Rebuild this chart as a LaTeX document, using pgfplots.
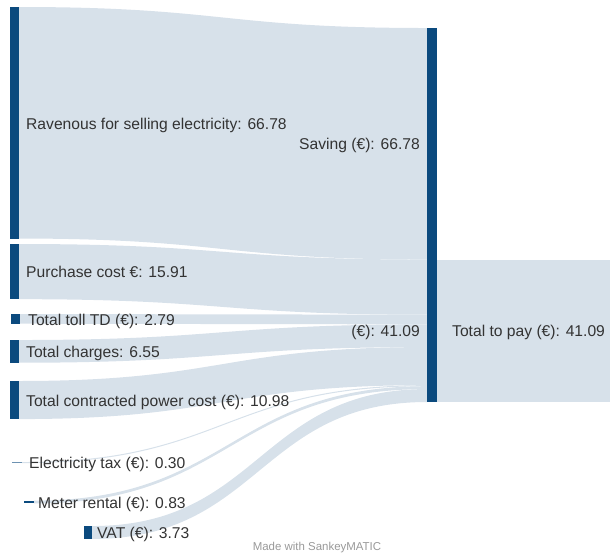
\documentclass[border=0pt]{standalone}
\usepackage{pgfplots}
\pgfplotsset{compat=1.18}
\usepackage{fontspec}
\setmainfont{Liberation Sans}
\definecolor{barc}{HTML}{0B4A7E}
\definecolor{flowc}{HTML}{D7E1EA}
\definecolor{txt}{HTML}{333333}
% flow: x0, x1, y0top, y0bot, y1top, y1bot
\newcommand\flow[6]{%
  \fill[flowc] (axis cs:#1,#3) .. controls (axis cs:{(#1+#2)/2},#3) and (axis cs:{(#1+#2)/2},#5) .. (axis cs:#2,#5)
    -- (axis cs:#2,#6) .. controls (axis cs:{(#1+#2)/2},#6) and (axis cs:{(#1+#2)/2},#4) .. (axis cs:#1,#4) -- cycle;}
\tikzset{lbl/.style={inner sep=0pt,text=txt,font=\fontsize{15.7}{18}\selectfont,yshift=-6.2bp}}
\newcommand\lab[3]{\node[anchor=base west,lbl] at (axis cs:#1,#2) {#3};}
\begin{document}
\begin{tikzpicture}
\begin{axis}[
  width=610bp, height=554bp, scale only axis,
  xmin=0, xmax=610, ymin=0, ymax=159.79, y dir=reverse,
  hide axis, clip=false,
]
\path (axis cs:0,0) rectangle (axis cs:610,159.79);
% flows (values in euro units on the y axis)
\flow{19}{427}{2.02}{2.02+66.78}{8.08}{8.08+66.78}
\flow{19}{427}{70.38}{70.38+15.91}{74.86}{74.86+15.91}
\flow{20}{427}{90.57}{90.57+2.79}{90.77}{90.77+2.79}
\flow{19}{427}{98.07}{98.07+6.55}{93.56}{93.56+6.55}
\flow{19}{427}{109.89}{109.89+10.98}{100.11}{100.11+10.98}
\flow{22}{427}{133.26}{133.26+0.30}{111.09}{111.09+0.30}
\flow{34}{427}{144.39}{144.39+0.83}{111.39}{111.39+0.83}
\flow{92}{427}{151.72}{151.72+3.73}{112.22}{112.22+3.73}
% outgoing flow to Total to pay
\addplot[fill=flowc, draw=none] coordinates {(437,74.86) (610,74.86) (610,115.95) (437,115.95)} -- cycle;
% node bars
\addplot[fill=barc, draw=none] coordinates {(10,2.02) (19,2.02) (19,68.80) (10,68.80)} -- cycle;
\addplot[fill=barc, draw=none] coordinates {(10,70.38) (19,70.38) (19,86.29) (10,86.29)} -- cycle;
\addplot[fill=barc, draw=none] coordinates {(11,90.57) (20,90.57) (20,93.36) (11,93.36)} -- cycle;
\addplot[fill=barc, draw=none] coordinates {(10,98.07) (19,98.07) (19,104.62) (10,104.62)} -- cycle;
\addplot[fill=barc, draw=none] coordinates {(10,109.89) (19,109.89) (19,120.87) (10,120.87)} -- cycle;
\addplot[fill=barc!60, draw=none] coordinates {(12,133.26) (22,133.26) (22,133.56) (12,133.56)} -- cycle;
\addplot[fill=barc, draw=none] coordinates {(24,144.39) (34,144.39) (34,145.22) (24,145.22)} -- cycle;
\addplot[fill=barc, draw=none] coordinates {(84,151.72) (92,151.72) (92,155.45) (84,155.45)} -- cycle;
\addplot[fill=barc, draw=none] coordinates {(427,8.08) (437,8.08) (437,115.95) (427,115.95)} -- cycle;
% labels
\lab{26}{35.70}{Ravenous for selling electricity: 66.78}
\lab{26}{78.34}{Purchase cost €: 15.91}
\lab{28}{92.10}{Total toll TD (€): 2.79}
\lab{26}{101.35}{Total charges: 6.55}
\lab{26}{115.38}{Total contracted power cost (€): 10.98}
\lab{29}{133.41}{Electricity tax (€): 0.30}
\lab{38}{144.80}{Meter rental (€): 0.83}
\lab{97}{153.59}{VAT (€): 3.73}
\lab{452}{95.40}{Total to pay (€): 41.09}
\node[anchor=base east,lbl] at (axis cs:420,41.47) {Saving (€): 66.78};
\node[anchor=base east,lbl] at (axis cs:420,95.40) {(€): 41.09};
\node[inner sep=0pt,text=black!40,font=\fontsize{11.5}{13}\selectfont] at (axis cs:317,158.06) {Made with SankeyMATIC};
\end{axis}
\end{tikzpicture}
\end{document}
